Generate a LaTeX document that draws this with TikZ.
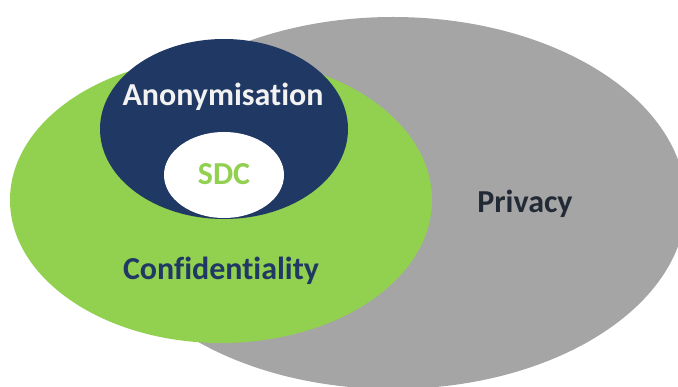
\documentclass[tikz,border=0pt]{standalone}
\usepackage{fontspec}
\setmainfont[Ligatures=NoCommon]{Carlito}
\usetikzlibrary{shapes.geometric}
\definecolor{privgray}{HTML}{A5A5A5}
\definecolor{confgreen}{HTML}{92D050}
\definecolor{anonblue}{HTML}{203864}
\definecolor{privtext}{HTML}{222A35}
\definecolor{anontext}{HTML}{F2F2F2}
\tikzset{
  blob/.style={ellipse, draw=none, inner sep=0pt},
  lbl/.style={font=\bfseries\fontsize{32}{34}\selectfont, anchor=base, inner sep=0pt}
}
\begin{document}
\begin{tikzpicture}[x=1pt, y=-1pt]
  \useasboundingbox (0,0) rectangle (678,387);
  % nested sets, outermost first
  \node[blob, fill=privgray, minimum width=586pt, minimum height=372pt] (privacy) at (393,203) {};
  \node[blob, fill=confgreen, minimum width=422pt, minimum height=286pt] (conf) at (221,200) {};
  \node[blob, fill=anonblue, minimum width=248pt, minimum height=180pt] (anon) at (224,129) {};
  \node[blob, fill=white, minimum width=120pt, minimum height=86pt] (sdc) at (224,175) {};
  % labels
  \node[lbl, text=anontext] (anonlbl) at (223,106) {Anonymisation};
  \node[lbl, text=confgreen] (sdclbl) at (224,185) {SDC};
  \node[lbl, text=anonblue] (conflbl) at (221,280) {Confidentiality};
  \node[lbl, text=privtext] (privlbl) at (525,213) {Privacy};
\end{tikzpicture}
\end{document}
